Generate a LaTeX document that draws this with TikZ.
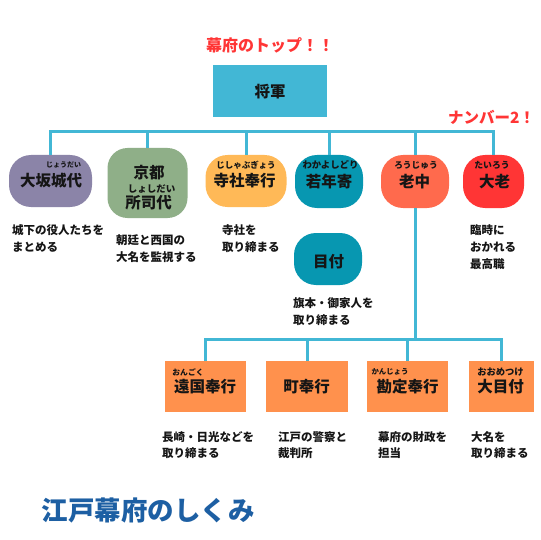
\documentclass[tikz,border=0pt]{standalone}
\usepackage{fontspec}
\setmainfont{Noto Sans CJK JP}
\definecolor{lineblue}{HTML}{42B7D5}
\definecolor{purp}{HTML}{8B84A8}
\definecolor{sage}{HTML}{8FAF88}
\definecolor{amber}{HTML}{FFB957}
\definecolor{teal}{HTML}{0797B1}
\definecolor{coral}{HTML}{FF6A4D}
\definecolor{redc}{HTML}{FF3535}
\definecolor{orangebox}{HTML}{FF914D}
\definecolor{titleblue}{HTML}{1D5FA3}
\definecolor{ink}{HTML}{151515}
\tikzset{
  shapebox/.style={inner sep=0pt, outer sep=0pt, draw=none},
  pill/.style={shapebox, rounded corners=22pt, minimum height=52pt},
  sqbox/.style={shapebox, minimum height=51pt},
  maintxt/.style={inner sep=0pt, text=ink, font=\fontsize{15.5}{18}\selectfont\bfseries},
  furi/.style={inner sep=0pt, text=ink, font=\bfseries},
  desc/.style={inner sep=0pt, anchor=west, align=left, text=ink, font=\fontsize{11.5}{17}\selectfont\bfseries},
  descb/.style={desc, font=\fontsize{11.5}{16}\selectfont\bfseries},
  conn/.style={draw=lineblue, line width=3pt},
  redlabel/.style={inner sep=0pt, text=redc, font=\fontsize{16}{18}\selectfont\bfseries},
}
\begin{document}
\begin{tikzpicture}[x=1pt,y=-1pt]
\fill[white] (0,0) rectangle (540,540);
\useasboundingbox (0,0) rectangle (540,540);

% top
\node[redlabel] (toplabel) at (270,45) {幕府のトップ！！};
\node[shapebox, fill=lineblue, minimum width=114pt, minimum height=52pt] (shogun) at (270,91) {};
\node[maintxt] (shoguntxt) at (270,92) {将軍};
\node[redlabel, font=\fontsize{15.5}{18}\selectfont\bfseries] (no2) at (491.5,117) {ナンバー2！};

% row 1 shapes
\node[pill, fill=purp, minimum width=83pt] (osaka) at (50.5,181) {};
\node[shapebox, rounded corners=20pt, fill=sage, minimum width=80pt, minimum height=70pt] (kyoto) at (147.5,183) {};
\node[pill, fill=amber, minimum width=81pt] (jisha) at (246,181) {};
\node[pill, fill=teal, minimum width=68pt, minimum height=53pt] (waka) at (329,181.5) {};
\node[pill, fill=coral, minimum width=68pt, minimum height=53pt] (roju) at (415,181.5) {};
\node[pill, fill=redc, minimum width=61pt, minimum height=53pt] (tairo) at (493.5,181.5) {};
\node[pill, fill=teal, minimum width=68pt] (metsuke) at (328,259) {};

% row 1 texts
\node[furi] (osakaF) at (63.5,165) {\fontsize{7}{8}\selectfont じょうだい};
\node[maintxt] (osakaT) at (51,181) {大坂城代};
\node[maintxt] (kyotoT1) at (149,173) {京都};
\node[furi] (kyotoF) at (151.5,189) {\fontsize{9.5}{10}\selectfont しょしだい};
\node[maintxt] (kyotoT2) at (148.5,203) {所司代};
\node[furi] (jishaF) at (246,165) {\fontsize{8.5}{9}\selectfont じしゃぶぎょう};
\node[maintxt] (jishaT) at (244.5,181) {寺社奉行};
\node[furi] (wakaF) at (330.5,165) {\fontsize{9.4}{10}\selectfont わかよしどり};
\node[maintxt] (wakaT) at (329,182) {若年寄};
\node[furi] (rojuF) at (416,165) {\fontsize{8.7}{9}\selectfont ろうじゅう};
\node[maintxt] (rojuT) at (414.5,182) {老中};
\node[furi] (tairoF) at (492,165) {\fontsize{8.8}{9}\selectfont たいろう};
\node[maintxt] (tairoT) at (494.5,182) {大老};
\node[maintxt] (metsukeT) at (328.5,262) {目付};

% row 1 descriptions
\node[desc] (osakaD) at (12,238) {城下の役人たちを\\まとめる};
\node[desc] (kyotoD) at (116,249) {朝廷と西国の\\大名を監視する};
\node[desc] (jishaD) at (222,239) {寺社を\\取り締まる};
\node[desc] (tairoD) at (470,247) {臨時に\\おかれる\\最高職};
\node[desc] (metsukeD) at (293,311.5) {旗本・御家人を\\取り締まる};

% row 2 shapes
\node[sqbox, fill=orangebox, minimum width=81pt] (enkoku) at (205.5,386.5) {};
\node[sqbox, fill=orangebox, minimum width=82pt] (machi) at (307,386.5) {};
\node[sqbox, fill=orangebox, minimum width=81pt] (kanjo) at (407.5,386.5) {};
\node[sqbox, fill=orangebox, minimum width=65pt] (ometsuke) at (501,386.5) {};

% row 2 texts
\node[furi] (enkokuF) at (188,372) {\fontsize{7.8}{9}\selectfont おんごく};
\node[maintxt] (enkokuT) at (205,386.5) {遠国奉行};
\node[maintxt] (machiT) at (306.5,387) {町奉行};
\node[furi] (kanjoF) at (390,372) {\fontsize{7.4}{9}\selectfont かんじょう};
\node[maintxt] (kanjoT) at (407.5,387) {勘定奉行};
\node[furi] (ometsukeF) at (500.5,372) {\fontsize{9.3}{10}\selectfont おおめつけ};
\node[maintxt] (ometsukeT) at (500.5,387) {大目付};

% row 2 descriptions
\node[descb] (enkokuD) at (162,445) {長崎・日光などを\\取り締まる};
\node[descb] (machiD) at (278,445) {江戸の警察と\\裁判所};
\node[descb] (kanjoD) at (378,445) {幕府の財政を\\担当};
\node[descb] (ometsukeD) at (471,445) {大名を\\取り締まる};

% title
\node[inner sep=0pt, text=titleblue, font=\fontsize{26.5}{30}\selectfont\bfseries] (title) at (148.5,510) {江戸幕府のしくみ};

% connectors
\coordinate (bus) at (0,132);
\coordinate (bus2) at (0,339);
\draw[conn] (osaka.north) -- (osaka.north |- bus) -| (tairo.north);
\draw[conn] (kyoto.north) -- (kyoto.north |- bus);
\draw[conn] (jisha.north) -- (jisha.north |- bus);
\draw[conn] (waka.north) -- (waka.north |- bus);
\draw[conn] (roju.north) -- (roju.north |- bus);
\draw[conn] (roju.south) -- (roju.south |- bus2);
\draw[conn] (enkoku.north) -- (enkoku.north |- bus2) -| (ometsuke.north);
\draw[conn] (machi.north) -- (machi.north |- bus2);
\draw[conn] (kanjo.north) -- (kanjo.north |- bus2);
\end{tikzpicture}
\end{document}
